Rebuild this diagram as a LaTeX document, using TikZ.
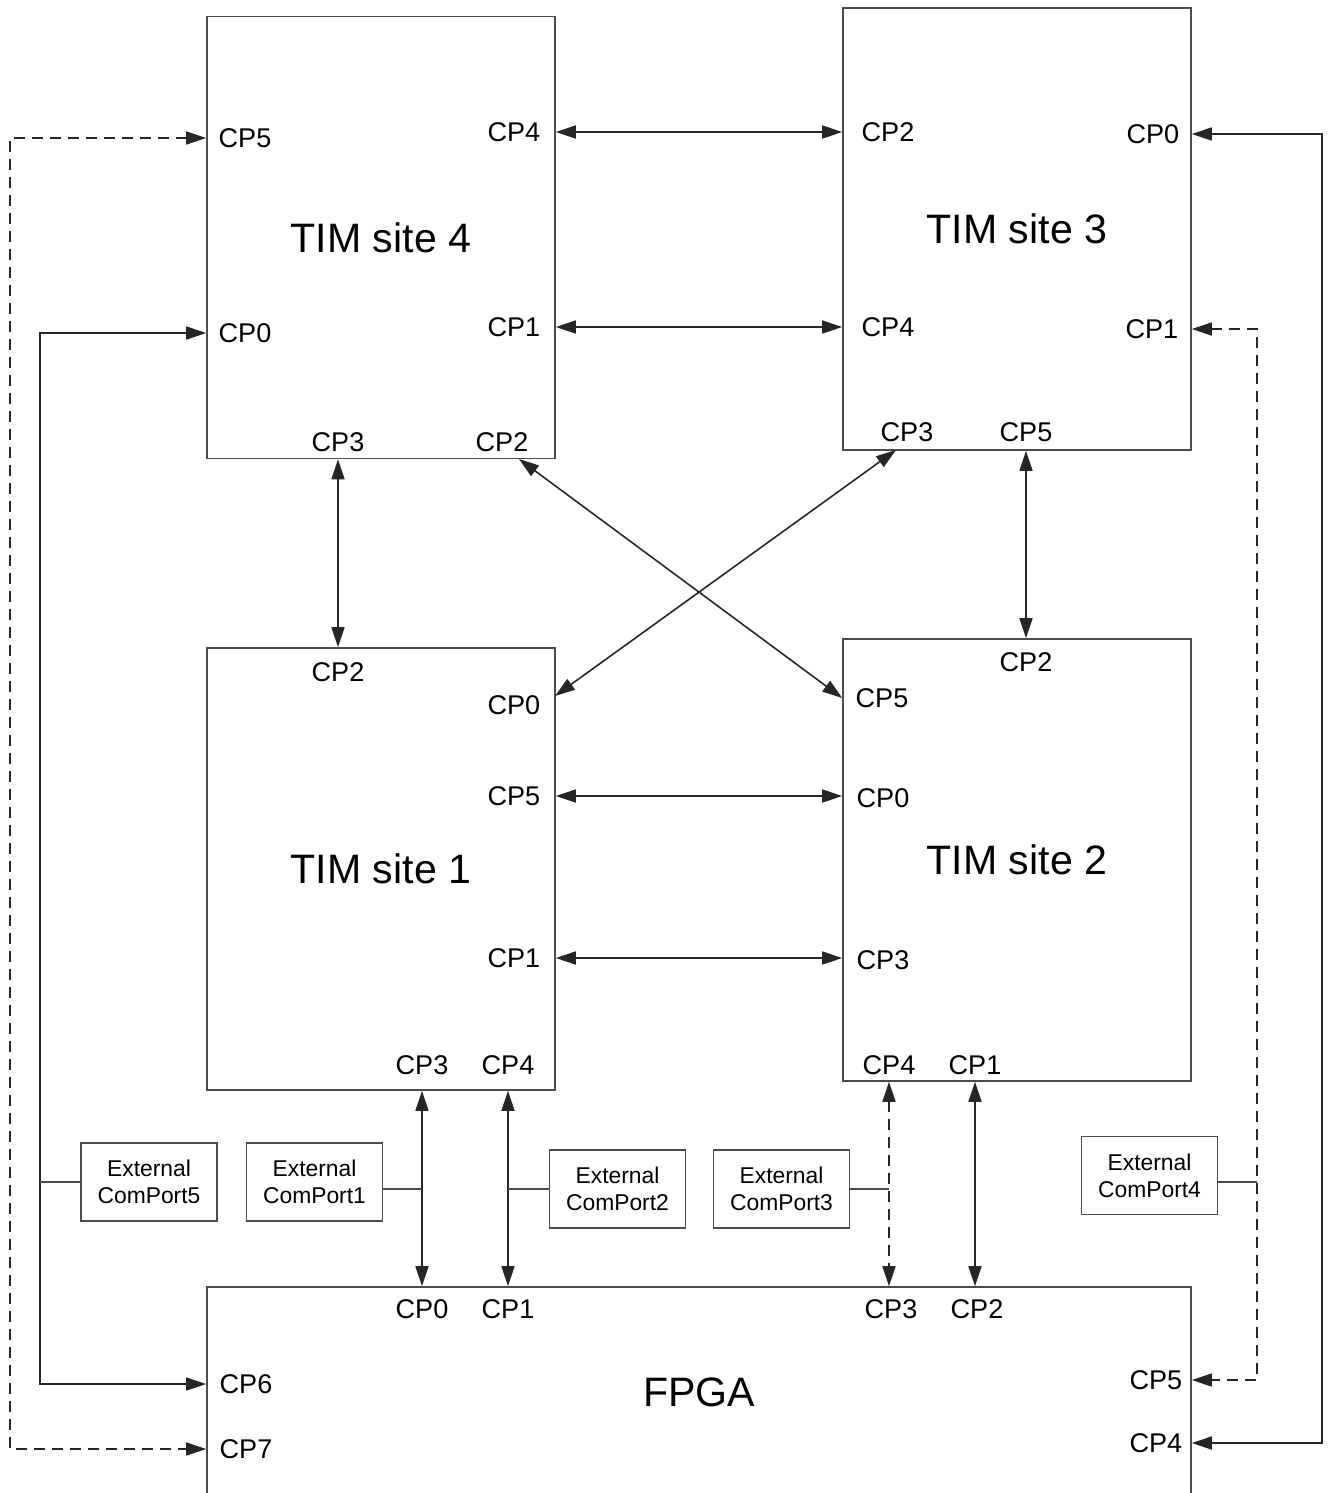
\documentclass[tikz,border=0pt]{standalone}
\usepackage{fontspec}
\setmainfont{Liberation Sans}
\usetikzlibrary{arrows.meta}

\begin{document}
\begin{tikzpicture}[x=0.1mm, y=-0.1mm,
  site/.style={rectangle, draw=black!70, line width=0.45pt, minimum width=34.8mm,
    minimum height=44.2mm, inner sep=0pt, font=\fontsize{11.7}{14}\selectfont},
  pl/.style={font=\fontsize{7.7}{9}\selectfont, inner sep=0pt},
  ext/.style={rectangle, draw=black!70, line width=0.45pt, minimum width=13.6mm,
    minimum height=7.8mm, align=center, inner sep=0pt,
    font=\fontsize{6.5}{7.7}\selectfont},
  link/.style={draw=black!85, line width=0.45pt,
    {Triangle[length=2mm,width=1.3mm]}-{Triangle[length=2mm,width=1.3mm]}},
  dlink/.style={link, dash pattern=on 1.1mm off 0.7mm},
  tap/.style={draw=black!70, line width=0.45pt},
]
\useasboundingbox (0,0) rectangle (1330,1493);

% Sites
\node[site] (s4) at (381,237.5) {TIM site 4};
\node[site] (s3) at (1017,229) {TIM site 3};
\node[site] (s1) at (381,869) {TIM site 1};
\node[site] (s2) at (1017,860) {TIM site 2};
\node[site, minimum width=98.4mm, minimum height=21mm] (fpga) at (699,1392) {FPGA};

% TIM site 4 ports
\node[pl, anchor=west] (s4p5) at (218,138) {CP5};
\node[pl, anchor=east] (s4p4) at (541,132) {CP4};
\node[pl, anchor=west] (s4p0) at (218,333) {CP0};
\node[pl, anchor=east] (s4p1) at (541,327) {CP1};
\node[pl] (s4p3) at (338,442) {CP3};
\node[pl] (s4p2) at (502,442) {CP2};

% TIM site 3 ports
\node[pl, anchor=west] (s3p2) at (861,132) {CP2};
\node[pl, anchor=east] (s3p0) at (1180,134) {CP0};
\node[pl, anchor=west] (s3p4) at (861,327) {CP4};
\node[pl, anchor=east] (s3p1) at (1179,329) {CP1};
\node[pl] (s3p3) at (907,432) {CP3};
\node[pl] (s3p5) at (1026,432) {CP5};

% TIM site 1 ports
\node[pl] (s1p2) at (338,672) {CP2};
\node[pl, anchor=east] (s1p0) at (541,705) {CP0};
\node[pl, anchor=east] (s1p5) at (541,796) {CP5};
\node[pl, anchor=east] (s1p1) at (541,958) {CP1};
\node[pl] (s1p3) at (422,1065) {CP3};
\node[pl] (s1p4) at (508,1065) {CP4};

% TIM site 2 ports
\node[pl] (s2p2) at (1026,662) {CP2};
\node[pl, anchor=west] (s2p5) at (855,698) {CP5};
\node[pl, anchor=west] (s2p0) at (856,798) {CP0};
\node[pl, anchor=west] (s2p3) at (856,960) {CP3};
\node[pl] (s2p4) at (889,1065) {CP4};
\node[pl] (s2p1) at (975,1065) {CP1};

% FPGA ports
\node[pl] (fp0) at (422,1309) {CP0};
\node[pl] (fp1) at (508,1309) {CP1};
\node[pl] (fp3) at (891,1309) {CP3};
\node[pl] (fp2) at (977,1309) {CP2};
\node[pl, anchor=west] (fp6) at (219,1384) {CP6};
\node[pl, anchor=west] (fp7) at (219,1449) {CP7};
\node[pl, anchor=east] (fp5) at (1183,1380) {CP5};
\node[pl, anchor=east] (fp4) at (1183,1443) {CP4};

% External com ports
\node[ext] (e5) at (149,1182) {External\\ComPort5};
\node[ext] (e1) at (314.5,1182) {External\\ComPort1};
\node[ext] (e2) at (617.5,1189) {External\\ComPort2};
\node[ext] (e3) at (781.5,1189) {External\\ComPort3};
\node[ext] (e4) at (1149.5,1175.5) {External\\ComPort4};

% Rails and diagonal ends
\coordinate (lrd) at (10,0);
\coordinate (lrs) at (40,0);
\coordinate (rrd) at (1257,0);
\coordinate (rrs) at (1322,0);
\coordinate (x4) at (519,459);
\coordinate (x3) at (896,450);
\coordinate (x1) at (555,696);

% Links between sites
\draw[link] (s4.east |- s4p4) -- (s3.west |- s4p4);
\draw[link] (s4.east |- s4p1) -- (s3.west |- s4p1);
\draw[link] (s4.south -| s4p3) -- (s1.north -| s4p3);
\draw[link] (s3.south -| s3p5) -- (s2.north -| s3p5);
\draw[link] (x4) -- (s2.west |- s2p5);
\draw[link] (x3) -- (x1);
\draw[link] (s1.east |- s1p5) -- (s2.west |- s1p5);
\draw[link] (s1.east |- s1p1) -- (s2.west |- s1p1);

% Links to FPGA
\draw[link] (s1.south -| s1p3) -- (fpga.north -| s1p3);
\draw[link] (s1.south -| s1p4) -- (fpga.north -| s1p4);
\draw[dlink] (s2.south -| s2p4) -- (fpga.north -| s2p4);
\draw[link] (s2.south -| s2p1) -- (fpga.north -| s2p1);
\draw[dlink] (s4.west |- s4p5) -- (lrd |- s4p5) -- (lrd |- fp7) -- (fpga.west |- fp7);
\draw[link] (s4.west |- s4p0) -- (lrs |- s4p0) -- (lrs |- fp6) -- (fpga.west |- fp6);
\draw[link] (s3.east |- s3p0) -- (rrs |- s3p0) -- (rrs |- fp4) -- (fpga.east |- fp4);
\draw[dlink] (s3.east |- s3p1) -- (rrd |- s3p1) -- (rrd |- fp5) -- (fpga.east |- fp5);

% Taps to external ports
\draw[tap] (e5.west) -- (e5.west -| lrs);
\draw[tap] ([yshift=-0.7mm]e1.east) -- ([yshift=-0.7mm]e1.east -| s1p3);
\draw[tap] (e2.west) -- (e2.west -| s1p4);
\draw[tap] (e3.east) -- (e3.east -| s2p4);
\draw[tap] ([yshift=-0.65mm]e4.east) -- ([yshift=-0.65mm]e4.east -| rrd);

\end{tikzpicture}
\end{document}
